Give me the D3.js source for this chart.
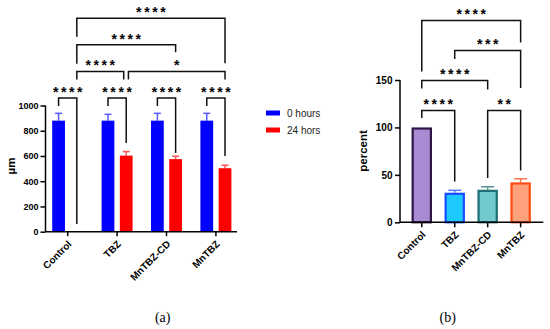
<!DOCTYPE html>
<meta charset="utf-8">

<style>

body {
  margin: 0;
  background: #fff;
}

svg.chart text {
  font-family: "Liberation Sans", Arial, sans-serif;
  fill: #000;
}

svg.chart .axis text {
  font-weight: bold;
}

svg.chart .axis path,
svg.chart .axis line {
  stroke: #000;
  stroke-width: 1.5;
}

svg.chart .stars {
  font-weight: bold;
  font-size: 14px;
  letter-spacing: 2.6px;
  text-anchor: middle;
}

svg.chart .bracket {
  fill: none;
  stroke: #111;
  stroke-width: 1.5;
}

svg.chart text.caption {
  font-family: "Liberation Serif", "Times New Roman", serif;
  font-size: 14px;
  text-anchor: middle;
}

</style>


<svg class="chart" width="550" height="329"></svg>


<script src="https://d3js.org/d3.v7.min.js"></script>

<script>

// ---- data, panel (a) ----
var groupsA = ["Control", "TBZ", "MnTBZ-CD", "MnTBZ"];
var seriesA = ["0 hours", "24 hors"];
var hours0 = [880, 880, 880, 880];
var hours0Err = [58, 50, 58, 58];
var hours24 = [0, 603, 575, 503];
var hours24Err = [0, 32, 23, 24];
var ticksA = [0, 200, 400, 600, 800, 1000];
// [group, series, group, series, stars]
var sigA = [
  [0, 0, 0, 1, "****"],
  [1, 0, 1, 1, "****"],
  [2, 0, 2, 1, "****"],
  [3, 0, 3, 1, "****"],
  [0, 1, 1, 1, "****"],
  [1, 1, 3, 1, "*"],
  [0, 1, 2, 1, "****"],
  [0, 1, 3, 1, "****"]
];

// ---- data, panel (b) ----
var groupsB = ["Control", "TBZ", "MnTBZ-CD", "MnTBZ"];
var percent = [100, 31.2, 34.3, 42.1];
var percentErr = [0, 2.5, 3.2, 3.8];
var ticksB = [0, 50, 100, 150];
// [group, group, stars]
var sigB = [
  [0, 1, "****"],
  [2, 3, "**"],
  [0, 2, "****"],
  [1, 3, "***"],
  [0, 3, "****"]
];

// bracket layout: level, leg drops (px), end nudges (px)
var layoutA = [
  {level: 0, drop: [8, 126], nudge: [0, 0]},
  {level: 0, drop: [8, 45], nudge: [0, 0]},
  {level: 0, drop: [8, 55], nudge: [0, 0]},
  {level: 0, drop: [8, 58], nudge: [0, 0]},
  {level: 1, drop: [8, 8], nudge: [0, -2.5]},
  {level: 1, drop: [8, 8], nudge: [2.2, 0]},
  {level: 2, drop: [19, 7.5], nudge: [0, 0]},
  {level: 3, drop: [18.5, 45], nudge: [0, 0]}
];
var layoutB = [
  {level: 0, drop: [7.6, 71]},
  {level: 0, drop: [67.6, 60]},
  {level: 1, drop: [8, 9]},
  {level: 2, drop: [8.6, 37.6]},
  {level: 3, drop: [51, 22]}
];

var svg = d3.select("svg.chart");

var seriesColor = ["#0000ff", "#ff0000"];
var seriesErrColor = ["#5a5aff", "#ff5252"];
var fillB = ["#a88bd3", "#1ec9ff", "#72c9cf", "#ffa27c"];
var strokeB = ["#2c1646", "#1a4dff", "#1b6e73", "#ff4a10"];

function drawBracket(g, x1, x2, y, drops, stars) {
  g.append("path")
    .attr("class", "bracket")
    .attr("d", `M${x1},${y + drops[0]}V${y}H${x2}V${y + drops[1]}`);
  g.append("text")
    .attr("class", "stars")
    .attr("x", (x1 + x2) / 2 + 1.3)
    .attr("y", y - 1)
    .text(stars);
}

// ================= panel (a) =================
(function() {
  var left = 45.5, right = 237, bottom = 231.7;
  var g = svg.append("g");

  var y = d3.scaleLinear().domain([0, 1000]).range([bottom, 105.5]);
  var x0 = d3.scaleBand().domain(groupsA).range([43, 240.6]).padding(0);
  var x1 = d3.scaleBand().domain(seriesA).range([-15.5, 15.5]).paddingInner(0.3);

  var values = [hours0, hours24];
  var errs = [hours0Err, hours24Err];

  function cx(gi, si) {
    return x0(groupsA[gi]) + x0.bandwidth() / 2 + x1(seriesA[si]) + x1.bandwidth() / 2;
  }

  // error bars
  seriesA.forEach(function(s, si) {
    var data = groupsA.map(function(name, gi) {
      return {gi: gi, v: values[si][gi], e: errs[si][gi]};
    }).filter(function(d) { return d.v > 0; });

    var eg = g.selectAll(".err" + si).data(data).enter().append("g")
      .attr("stroke", seriesErrColor[si])
      .attr("stroke-width", 1.5);
    eg.append("line")
      .attr("x1", function(d) { return cx(d.gi, si); })
      .attr("x2", function(d) { return cx(d.gi, si); })
      .attr("y1", function(d) { return y(d.v); })
      .attr("y2", function(d) { return y(d.v + d.e); });
    eg.append("line")
      .attr("x1", function(d) { return cx(d.gi, si) - 3.5; })
      .attr("x2", function(d) { return cx(d.gi, si) + 3.5; })
      .attr("y1", function(d) { return y(d.v + d.e); })
      .attr("y2", function(d) { return y(d.v + d.e); });

    g.selectAll(".bar" + si).data(data).enter().append("rect")
      .attr("x", function(d) { return cx(d.gi, si) - x1.bandwidth() / 2; })
      .attr("y", function(d) { return y(d.v); })
      .attr("width", x1.bandwidth())
      .attr("height", function(d) { return bottom - y(d.v); })
      .attr("fill", seriesColor[si]);
  });

  // axes
  g.append("g")
    .attr("class", "axis")
    .attr("transform", `translate(${left},0)`)
    .call(d3.axisLeft(y).tickValues(ticksA).tickFormat(d3.format("d"))
      .tickSize(5).tickSizeOuter(0).tickPadding(2))
    .call(function(a) {
      a.selectAll("text").style("font-size", "9px");
      a.select(".domain").attr("d", `M0,${y(1000)}V${bottom}`);
    });

  g.append("g")
    .attr("class", "axis")
    .attr("transform", `translate(0,${bottom})`)
    .call(d3.axisBottom(x0).tickSize(4.5).tickSizeOuter(0))
    .call(function(a) {
      a.select(".domain").attr("d", `M${left},0H${right}`);
      a.selectAll("text")
        .style("font-size", "10px")
        .attr("text-anchor", "end")
        .attr("dy", null)
        .attr("y", 0)
        .attr("transform", "translate(4.5,13) rotate(-45)");
    });

  // y label
  g.append("text")
    .attr("transform", "translate(15,166) rotate(-90)")
    .attr("text-anchor", "middle")
    .style("font-size", "11.5px")
    .style("font-weight", "bold")
    .text("µm");

  // brackets
  sigA.forEach(function(s, i) {
    var L = layoutA[i];
    var yy = y(1000) - 7.5 - 26.6 * L.level;
    drawBracket(g, cx(s[0], s[1]) + L.nudge[0], cx(s[2], s[3]) + L.nudge[1], yy, L.drop, s[4]);
  });

  // legend
  var leg = g.selectAll(".legend").data(seriesA).enter().append("g")
    .attr("transform", function(d, i) { return `translate(266,${110.5 + i * 17})`; });
  leg.append("rect")
    .attr("width", 14)
    .attr("height", 5)
    .attr("fill", function(d, i) { return seriesColor[i]; });
  leg.append("text")
    .attr("x", 21)
    .attr("y", 6.5)
    .style("font-size", "10px")
    .style("fill", "#222")
    .text(function(d) { return d; });

  g.append("text")
    .attr("class", "caption")
    .attr("x", 162.7)
    .attr("y", 322)
    .text("(a)");
})();

// ================= panel (b) =================
(function() {
  var left = 400, right = 543.3, bottom = 222.3;
  var g = svg.append("g");

  var y = d3.scaleLinear().domain([0, 150]).range([bottom, 80]);
  var x = d3.scaleBand().domain(groupsB).range([405.3, 537.1]).paddingInner(0.38).paddingOuter(0.19);

  function cx(gi) { return x(groupsB[gi]) + x.bandwidth() / 2; }

  var data = groupsB.map(function(name, gi) {
    return {gi: gi, name: name, v: percent[gi], e: percentErr[gi]};
  });

  var eg = g.selectAll(".errb").data(data.filter(function(d) { return d.e > 0; }))
    .enter().append("g")
    .attr("stroke", function(d) { return d3.interpolateRgb(strokeB[d.gi], "#fff")(0.25); })
    .attr("stroke-width", 1.5);
  eg.append("line")
    .attr("x1", function(d) { return cx(d.gi); })
    .attr("x2", function(d) { return cx(d.gi); })
    .attr("y1", function(d) { return y(d.v); })
    .attr("y2", function(d) { return y(d.v + d.e); });
  eg.append("line")
    .attr("x1", function(d) { return cx(d.gi) - 6.5; })
    .attr("x2", function(d) { return cx(d.gi) + 6.5; })
    .attr("y1", function(d) { return y(d.v + d.e); })
    .attr("y2", function(d) { return y(d.v + d.e); });

  g.selectAll(".barb").data(data).enter().append("rect")
    .attr("x", function(d) { return x(d.name) + 1.1; })
    .attr("y", function(d) { return y(d.v) + 1.1; })
    .attr("width", x.bandwidth() - 2.2)
    .attr("height", function(d) { return bottom - y(d.v) - 1.1; })
    .attr("fill", function(d) { return fillB[d.gi]; })
    .attr("stroke", function(d) { return strokeB[d.gi]; })
    .attr("stroke-width", 2.2);

  g.append("g")
    .attr("class", "axis")
    .attr("transform", `translate(${left},0)`)
    .call(d3.axisLeft(y).tickValues(ticksB).tickSize(5).tickSizeOuter(0).tickPadding(2.5))
    .call(function(a) {
      a.selectAll("text").style("font-size", "10px");
      a.select(".domain").attr("d", `M0,${y(150)}V${bottom}`);
    });

  g.append("g")
    .attr("class", "axis")
    .attr("transform", `translate(0,${bottom})`)
    .call(d3.axisBottom(x).tickSize(5).tickSizeOuter(0))
    .call(function(a) {
      a.select(".domain").attr("d", `M${left},0H${right}`);
      a.selectAll("text")
        .style("font-size", "10px")
        .attr("text-anchor", "end")
        .attr("dy", null)
        .attr("y", 0)
        .attr("transform", "translate(4.5,13) rotate(-45)");
    });

  g.append("text")
    .attr("transform", "translate(367,151) rotate(-90)")
    .attr("text-anchor", "middle")
    .style("font-size", "11.5px")
    .style("font-weight", "bold")
    .text("percent");

  sigB.forEach(function(s, i) {
    var L = layoutB[i];
    var yy = y(100) - 17 - 30 * L.level;
    drawBracket(g, cx(s[0]), cx(s[1]), yy, L.drop, s[2]);
  });

  g.append("text")
    .attr("class", "caption")
    .attr("x", 447.7)
    .attr("y", 322)
    .text("(b)");
})();

</script>
